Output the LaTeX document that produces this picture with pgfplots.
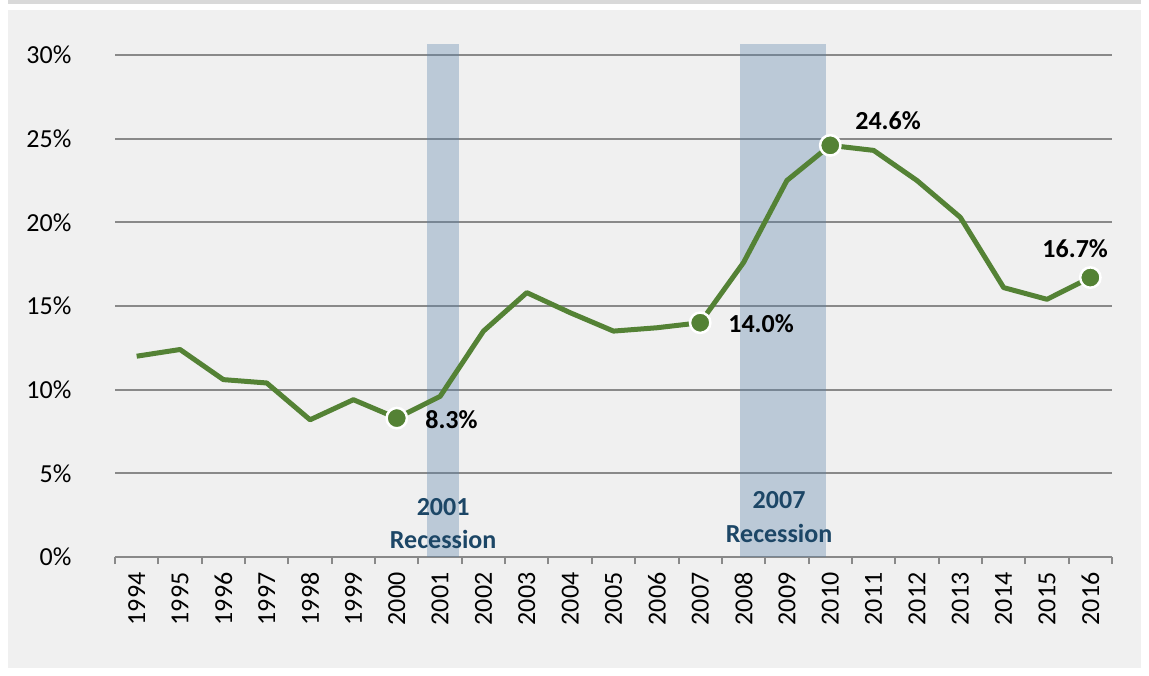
\documentclass[border=0pt]{standalone}
\usepackage{pgfplots}
\pgfplotsset{compat=1.18}
\usepackage{fontspec}
\setmainfont{Carlito}
\definecolor{panelbg}{RGB}{240,240,240}
\definecolor{topband}{RGB}{217,217,217}
\definecolor{linegreen}{RGB}{84,130,53}
\definecolor{recblue}{RGB}{91,129,171}
\definecolor{rectext}{RGB}{28,70,102}
\definecolor{gridgray}{RGB}{137,137,137}
\begin{document}
\begin{tikzpicture}
\useasboundingbox (0,0) rectangle (574.5pt,337.5pt);
\fill[white] (0,0) rectangle (574.5pt,337.5pt);
\fill[panelbg] (4pt,3.5pt) rectangle (570.5pt,332.5pt);
\fill[topband] (4pt,335.5pt) rectangle (570.5pt,337.5pt);
\begin{axis}[
  at={(57.5pt,59pt)}, anchor=south west,
  width=498.5pt, height=251pt, scale only axis,
  xmin=-0.5, xmax=22.5, ymin=0, ymax=30,
  clip=false,
  axis lines*=left,
  axis line style={-, draw=gridgray, line width=1pt},
  y axis line style={draw=none},
  ytick={0,5,...,30},
  yticklabels={0\%,5\%,10\%,15\%,20\%,25\%,30\%},
  ymajorgrids,
  grid style={draw=gridgray, line width=1pt},
  ytick style={draw=none},
  xtick={0,...,22},
  xticklabels={1994,1995,1996,1997,1998,1999,2000,2001,2002,2003,2004,2005,2006,2007,2008,2009,2010,2011,2012,2013,2014,2015,2016},
  major x tick style={draw=none},
  minor xtick={-0.5,0.5,...,22.5},
  minor x tick style={draw=gridgray, line width=1pt},
  minor tick length=3.5pt,
  tick align=outside,
  xticklabel style={rotate=90, anchor=east, font=\fontsize{13}{15}\selectfont, text=black},
  yticklabel style={anchor=east, font=\fontsize{13}{15}\selectfont, text=black, xshift=-14pt},
]
% recession shading
\addplot[draw=none, fill=recblue, fill opacity=0.35] coordinates {(6.70,30.66) (7.44,30.66)} \closedcycle;
\addplot[draw=none, fill=recblue, fill opacity=0.35] coordinates {(13.92,30.66) (15.90,30.66)} \closedcycle;
% main series
\addplot[linegreen, line width=2.5pt, line join=round, mark=none] coordinates {
(0,12.0) (1,12.4) (2,10.6) (3,10.4) (4,8.2) (5,9.4) (6,8.3) (7,9.6) (8,13.5) (9,15.8) (10,14.6) (11,13.5) (12,13.7) (13,14.0) (14,17.6) (15,22.5) (16,24.6) (17,24.3) (18,22.5) (19,20.3) (20,16.1) (21,15.4) (22,16.7)
};
% highlighted points
\addplot[only marks, mark=*, mark size=5.1pt, mark options={fill=linegreen, draw=white, line width=1.25pt}] coordinates {
(6,8.3) (13,14.0) (16,24.6) (22,16.7)
};
% labels
\node[anchor=west, font=\fontsize{13}{15}\selectfont\bfseries, text=black, inner sep=0pt] at (axis cs:6.65,8.2) {8.3\%};
\node[anchor=west, font=\fontsize{13}{15}\selectfont\bfseries, text=black, inner sep=0pt] at (axis cs:13.64,13.93) {14.0\%};
\node[anchor=west, font=\fontsize{13}{15}\selectfont\bfseries, text=black, inner sep=0pt] at (axis cs:16.57,26.06) {24.6\%};
\node[anchor=center, font=\fontsize{13}{15}\selectfont\bfseries, text=black, inner sep=0pt] at (axis cs:21.65,18.41) {16.7\%};
\node[anchor=center, font=\fontsize{13}{15}\selectfont\bfseries, text=rectext, inner sep=0pt] at (axis cs:7.07,2.99) {2001};
\node[anchor=center, font=\fontsize{13}{15}\selectfont\bfseries, text=rectext, inner sep=0pt] at (axis cs:7.07,1.02) {Recession};
\node[anchor=center, font=\fontsize{13}{15}\selectfont\bfseries, text=rectext, inner sep=0pt] at (axis cs:14.82,3.41) {2007};
\node[anchor=center, font=\fontsize{13}{15}\selectfont\bfseries, text=rectext, inner sep=0pt] at (axis cs:14.82,1.43) {Recession};
\end{axis}
\end{tikzpicture}
\end{document}
